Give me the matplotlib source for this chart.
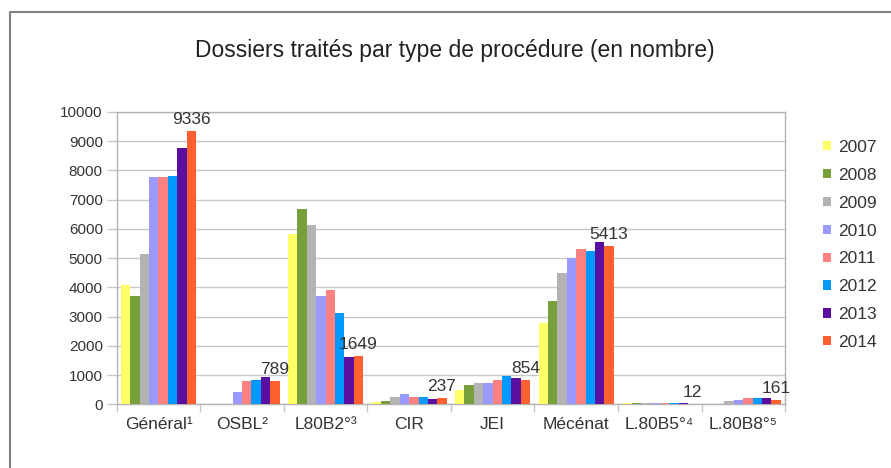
import matplotlib
matplotlib.use("Agg")
import matplotlib.pyplot as plt
from matplotlib.lines import Line2D
from matplotlib.patches import Patch
import numpy as np

plt.rcParams['font.family'] = ['Liberation Sans', 'DejaVu Sans']

# data
categories = ['Général¹', 'OSBL²', 'L80B2°³', 'CIR', 'JEI', 'Mécénat', 'L.80B5°⁴', 'L.80B8°⁵']
years = ['2007', '2008', '2009', '2010', '2011', '2012', '2013', '2014']
v2007 = [4100, 0, 5840, 80, 490, 2800, 45, 0]
v2008 = [3700, 0, 6700, 125, 660, 3540, 50, 0]
v2009 = [5140, 0, 6140, 270, 740, 4510, 40, 114]
v2010 = [7780, 410, 3700, 370, 740, 5000, 40, 160]
v2011 = [7780, 800, 3920, 240, 830, 5320, 40, 205]
v2012 = [7820, 843, 3140, 240, 960, 5260, 40, 205]
v2013 = [8770, 930, 1620, 182, 920, 5550, 45, 205]
v2014 = [9336, 789, 1649, 237, 854, 5413, 12, 161]
series = [v2007, v2008, v2009, v2010, v2011, v2012, v2013, v2014]
colors = ['#ffff66', '#77a03c', '#b3b3b3', '#9999ff', '#ff8080', '#0099ff', '#5b0fa0', '#ff6030']

text_col = '#333333'
grid_col = '#c8c8c8'

fig = plt.figure(figsize=(8.91, 4.68), dpi=100)

# outer frame (left and top edges visible)
fig.add_artist(Line2D([10 / 891, 10 / 891, 1.0], [0.0, 1 - 12 / 468, 1 - 12 / 468],
                      transform=fig.transFigure, color='#808080', lw=1.5))

fig.text(455 / 891, 1 - 51 / 468, 'Dossiers traités par type de procédure (en nombre)',
         ha='center', va='center', fontsize=16.5, color='#222222')

ax = fig.add_axes([0.1310, 0.1357, 0.7501, 0.6250])

x = np.arange(len(categories))
width = 0.1125
for i, (vals, c) in enumerate(zip(series, colors)):
    ax.bar(x + (i - 3.5) * width, vals, width, color=c, zorder=3, label=years[i])

# value labels above the 2014 bar
for xi, v in zip(x, v2014):
    ax.annotate(str(v), (xi + 3.5 * width, v), xytext=(0, 5), textcoords='offset points',
                ha='center', va='baseline', fontsize=12.5, color=text_col)

ax.set_xlim(-0.5, 7.5)
ax.set_ylim(0, 10000)
ax.set_yticks(np.arange(0, 10001, 1000))
ax.yaxis.grid(True, color=grid_col, lw=1, zorder=0)
ax.tick_params(axis='y', direction='out', length=7, width=1, color=grid_col,
               labelsize=11, labelcolor=text_col, pad=3)

# ticks between groups, labels centred under groups
ax.set_xticks(np.arange(-0.5, 8, 1))
ax.set_xticklabels([])
ax.set_xticks(x, minor=True)
ax.set_xticklabels(categories, minor=True)
ax.tick_params(axis='x', which='major', direction='out', length=6, width=1, color=grid_col)
ax.tick_params(axis='x', which='minor', length=0, labelsize=12.5, labelcolor=text_col, pad=9)

for s in ax.spines.values():
    s.set_color('#b3b3b3')
    s.set_linewidth(1)

handles = [Patch(facecolor=c, edgecolor='none') for c in colors]
fig.legend(handles, years, loc='upper left', bbox_to_anchor=(823 / 891, 1 - 140 / 468),
           frameon=False, fontsize=12.5, handlelength=0.45, handleheight=0.45,
           handletextpad=0.4, labelspacing=0.74, borderpad=0, borderaxespad=0,
           labelcolor=text_col)

fig.savefig('out.png', dpi=100)
